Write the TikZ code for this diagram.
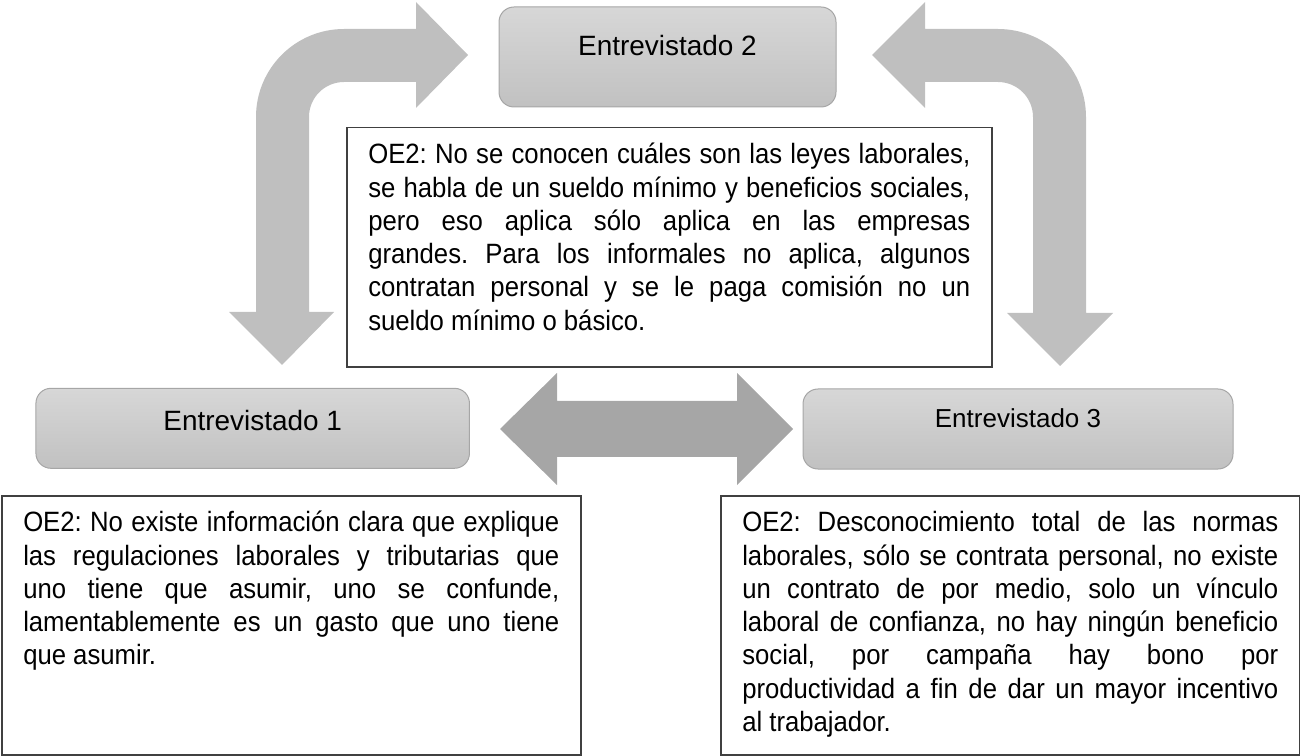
\documentclass[tikz,border=0pt]{standalone}
\usepackage{fontspec}
\setmainfont{Liberation Sans}
\newfontfamily\notafont{Liberation Sans}[FakeStretch=0.92]
\usepackage{tikz}
\frenchspacing
\tolerance=10000
\hbadness=10000
\hyphenpenalty=10000
\exhyphenpenalty=10000
\definecolor{EN_BORDE}{HTML}{A6A6A6}
\definecolor{EN_TOP}{HTML}{D7D7D7}
\definecolor{EN_BOT}{HTML}{C1C1C1}
\definecolor{EN_CURVA}{HTML}{BFBFBF}
\definecolor{EN_DOBLE}{HTML}{A6A6A6}
\definecolor{EN_LINEA}{HTML}{404040}
\tikzset{
  entrev/.style={
    rectangle, rounded corners=3mm,
    inner sep=0pt, text centered,
    draw=EN_BORDE, line width=0.2mm,
    top color=EN_TOP, bottom color=EN_BOT,
    font=\fontsize{15.9}{19}\selectfont},
  nota/.style={
    rectangle, anchor=north west,
    inner xsep=4.3mm, inner ysep=0pt,
    align=justify, text width=107.2mm,
    draw=EN_LINEA, line width=0.3mm, fill=white,
    text height=7.2mm,
    font=\notafont\fontsize{15.9}{18.95}\selectfont},
  curva/.style={fill=EN_CURVA},
  doble/.style={fill=EN_DOBLE},
}
\begin{document}
\begin{tikzpicture}[x=0.2mm, y=-0.2mm]

  \useasboundingbox (0,0) rectangle (1300,756);

  \fill[curva] (282,365) -- (334,312) -- (309,312) -- (309,117)
    arc[start angle=180, end angle=270, radius=35] -- (416,82)
    -- (416,108) -- (468,55) -- (416,2) -- (416,29) -- (344,29)
    arc[start angle=270, end angle=180, radius=88] -- (256,312)
    -- (229,312) -- cycle;

  \fill[curva] (1060,366) -- (1113,313) -- (1086,313) -- (1086,117)
    arc[start angle=0, end angle=-90, radius=88] -- (925,29)
    -- (925,2) -- (872,55) -- (925,108) -- (925,82) -- (998,82)
    arc[start angle=-90, end angle=0, radius=35] -- (1033,313)
    -- (1007,313) -- cycle;

  \fill[doble] (500,429) -- (557,373) -- (557,401) -- (737,401)
    -- (737,373) -- (793,429) -- (737,485) -- (737,457)
    -- (557,457) -- (557,485) -- cycle;

  \node[entrev, minimum width=67.4mm, minimum height=20mm,
        text height=4mm, text depth=4.4mm] (ent2) at (667.5,57)
    {Entrevistado 2};

  \node[entrev, minimum width=86.7mm, minimum height=16mm,
        text height=4mm, text depth=3.32mm] (ent1) at (252.7,428.3)
    {Entrevistado 1};

  \node[entrev, minimum width=86mm, minimum height=16mm,
        text height=3.8mm, text depth=4.2mm,
        font=\fontsize{14.8}{18}\selectfont] (ent3) at (1018,429)
    {Entrevistado 3};

  \node[nota, text width=120.4mm, text depth=40.6mm] (oe2c) at (346,127)
    {OE2: No se conocen cuáles son las leyes laborales,\linebreak
     se habla de un sueldo mínimo y beneficios sociales,\linebreak
     pero eso aplica sólo aplica en las empresas\linebreak
     grandes. Para los informales no aplica, algunos\linebreak
     contratan personal y se le paga comisión no un\linebreak
     sueldo mínimo o básico.};

  \node[nota, text depth=44.6mm] (oe2i) at (1,495)
    {OE2: No existe información clara que explique\linebreak
     las regulaciones laborales y tributarias que\linebreak
     uno tiene que asumir, uno se confunde,\linebreak
     lamentablemente es un gasto que uno tiene\linebreak
     que asumir.};

  \node[nota, text depth=44.6mm] (oe2d) at (720,495)
    {OE2: Desconocimiento total de las normas\linebreak
     laborales, sólo se contrata personal, no existe\linebreak
     un contrato de por medio, solo un vínculo\linebreak
     laboral de confianza, no hay ningún beneficio\linebreak
     social, por campaña hay bono por\linebreak
     productividad a fin de dar un mayor incentivo\linebreak
     al trabajador.};

\end{tikzpicture}
\end{document}
